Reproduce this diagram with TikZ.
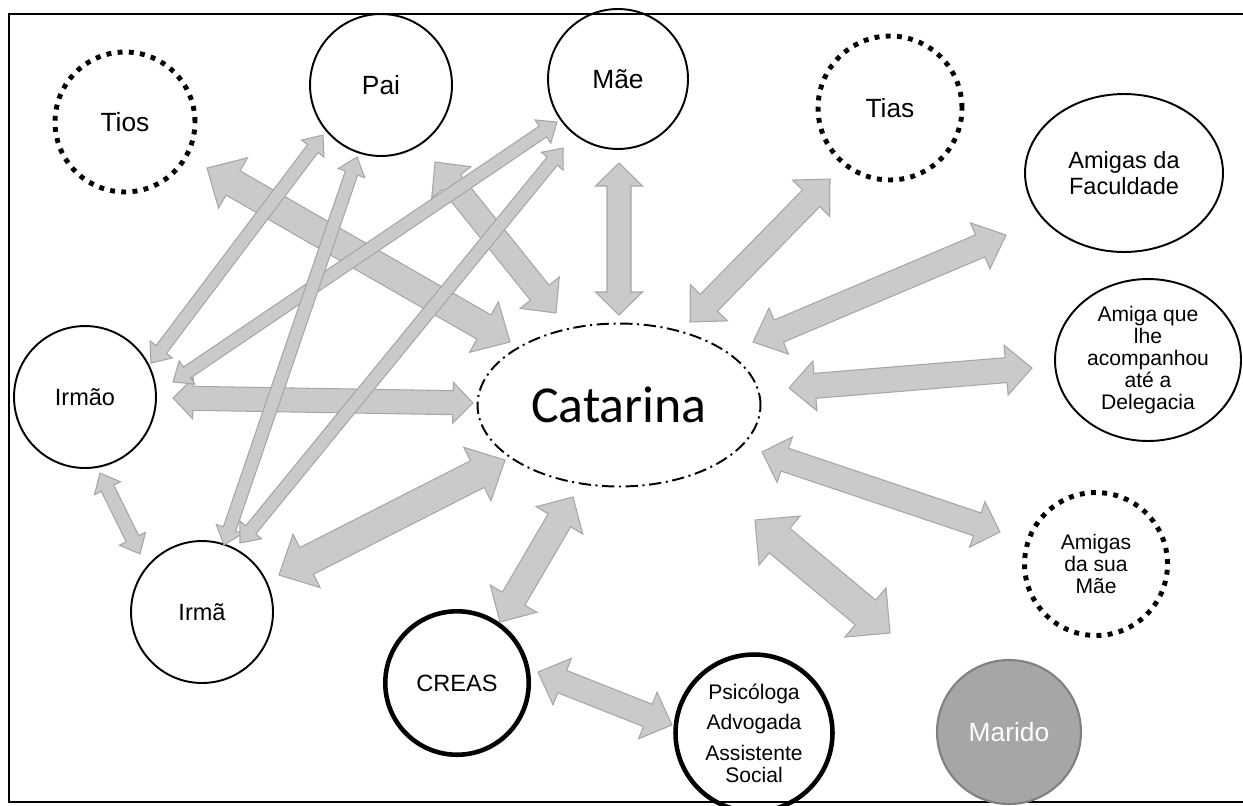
\documentclass[tikz,border=0pt]{standalone}
\usepackage{fontspec}
\setmainfont{Liberation Sans}
\newfontfamily\catfont{Carlito}
\usetikzlibrary{calc,shapes.geometric}

\definecolor{arrfill}{RGB}{202,202,202}
\definecolor{arrline}{RGB}{166,166,166}
\definecolor{maridofill}{RGB}{166,166,166}
\definecolor{maridoline}{RGB}{128,128,128}

\tikzset{
  member/.style={circle, draw, line width=1.1pt, inner sep=0pt, align=center, minimum size=#1},
  strong/.style={circle, draw, line width=2.6pt, inner sep=0pt, align=center, minimum size=#1},
  weak/.style={circle, draw, line width=2.8pt, dash pattern=on 2.8pt off 3.6pt, inner sep=0pt, align=center, minimum size=#1},
  oval/.style={ellipse, draw, line width=1.1pt, inner sep=0pt, align=center},
  big/.style={font=\fontsize{15}{18}\selectfont},
  mid/.style={font=\fontsize{13.4}{14.8}\selectfont},
  small/.style={font=\fontsize{12}{12.5}\selectfont},
  barrow/.style={fill=arrfill, draw=arrline, line width=0.6pt, line join=miter},
}

% double block arrow between two named points:
% #1,#2 tips; #3 shaft half width; #4 head half width; #5 head length (px)
\newcommand\blockarrow[5]{%
  \path ($(#1)!#5*0.02cm!(#2)$) coordinate (ba)
        ($(#2)!#5*0.02cm!(#1)$) coordinate (bb);
  \filldraw[barrow] (#1)
    -- ($(ba)!#4*0.02cm!90:(#2)$) -- ($(ba)!#3*0.02cm!90:(#2)$)
    -- ($(bb)!#3*0.02cm!-90:(#1)$) -- ($(bb)!#4*0.02cm!-90:(#1)$)
    -- (#2)
    -- ($(bb)!#4*0.02cm!90:(#1)$) -- ($(bb)!#3*0.02cm!90:(#1)$)
    -- ($(ba)!#3*0.02cm!-90:(#2)$) -- ($(ba)!#4*0.02cm!-90:(#2)$)
    -- cycle;}

\begin{document}
\begin{tikzpicture}[x=0.02cm, y=-0.02cm]
\useasboundingbox (0,0) rectangle (1243,805);

% frame
\draw[line width=0.9pt] (9,14) rectangle (1270,802);

% people and services
\node[weak=2.8cm, big]   (tios)   at (125,122) {Tios};
\node[member=2.84cm, big] (pai)   at (381,85)  {Pai};
\node[member=2.8cm, big] (mae)    at (618,79)  {Mãe};
\node[weak=2.88cm, big]  (tias)   at (890,108) {Tias};
\node[oval, minimum width=3.96cm, minimum height=3.16cm, mid] (facul) at (1124,173) {Amigas da\\Faculdade};
\node[oval, minimum width=3.72cm, minimum height=3.24cm, small] (amiga) at (1148,360) {Amiga que\\lhe\\acompanhou\\até a\\Delegacia};
\node[weak=2.86cm, small] (amigasmae) at (1096,564) {Amigas\\da sua\\Mãe};
\node[circle, fill=maridofill, draw=maridoline, line width=1.2pt, minimum size=2.88cm,
      inner sep=0pt, text=white, big] (marido) at (1009,732) {Marido};
\node[strong=3.14cm, small] (psi) at (754,733) {Psicóloga\\[4.8pt]Advogada\\[4.8pt]Assistente\\Social};
\node[strong=2.87cm, mid] (creas) at (457,683) {CREAS};
\node[member=2.84cm, mid] (irma)  at (202,612) {Irmã};
\node[member=2.84cm, mid] (irmao) at (85,397)  {Irmão};
\node[ellipse, draw, line width=1.1pt, dash pattern=on 7pt off 2.6pt on 1.2pt off 2.6pt,
      minimum width=5.66cm, minimum height=3.26cm, inner sep=0pt,
      font=\catfont\fontsize{29.5}{32}\selectfont] (cat) at (619,405) {Catarina};

% arrow ends
\coordinate (tiosA) at (207,168);  \coordinate (tiosB) at (510,342);
\coordinate (paiA)  at (435,162);  \coordinate (paiB)  at (556,313);
\coordinate (maeA)  at (619,163);  \coordinate (maeB)  at (619,315);
\coordinate (tiasA) at (830,179);  \coordinate (tiasB) at (690,322);
\coordinate (facA)  at (1006,235); \coordinate (facB)  at (753,342);
\coordinate (amA)   at (1032,368); \coordinate (amB)   at (789,388);
\coordinate (amgA)  at (1000,532); \coordinate (amgB)  at (762,452);
\coordinate (marA)  at (890,633);  \coordinate (marB)  at (755,520);
\coordinate (crA)   at (500,622);  \coordinate (crB)   at (573,497);
\coordinate (psA)   at (672,725);  \coordinate (psB)   at (538,672);
\coordinate (irmaA) at (279,575);  \coordinate (irmaB) at (505,460);
\coordinate (irmoA) at (173,398);  \coordinate (irmoB) at (473,403);
\coordinate (sibA)  at (100,473);  \coordinate (sibB)  at (140,554);
\coordinate (ipA)   at (151,363);  \coordinate (ipB)   at (323,135);
\coordinate (imA)   at (173,382);  \coordinate (imB)   at (557,122);
\coordinate (apA)   at (224,545);  \coordinate (apB)   at (357,157);
\coordinate (amaA)  at (240,543);  \coordinate (amaB)  at (563,148);

% relations with Catarina
\blockarrow{tiosA}{tiosB}{14}{29}{30}
\blockarrow{paiA}{paiB}{12}{25}{26}
\blockarrow{maeA}{maeB}{12}{23.5}{23}
\blockarrow{tiasA}{tiasB}{12}{26}{27}
\blockarrow{facA}{facB}{12}{25}{28}
\blockarrow{amA}{amB}{12.5}{25}{26}
\blockarrow{amgA}{amgB}{12}{24}{24}
\blockarrow{marA}{marB}{16}{32}{32}
\blockarrow{crA}{crB}{13}{27}{27}
\blockarrow{psA}{psB}{12}{25}{26}
\blockarrow{irmaA}{irmaB}{15}{30}{31}
\blockarrow{irmoA}{irmoB}{12}{20.5}{20}
% relations among the family
\blockarrow{sibA}{sibB}{7}{14.5}{17}
\blockarrow{ipA}{ipB}{6.5}{14}{17}
\blockarrow{imA}{imB}{6.5}{14}{17}
\blockarrow{apA}{apB}{6.5}{14}{17}
\blockarrow{amaA}{amaB}{6.5}{14}{17}
\end{tikzpicture}
\end{document}
